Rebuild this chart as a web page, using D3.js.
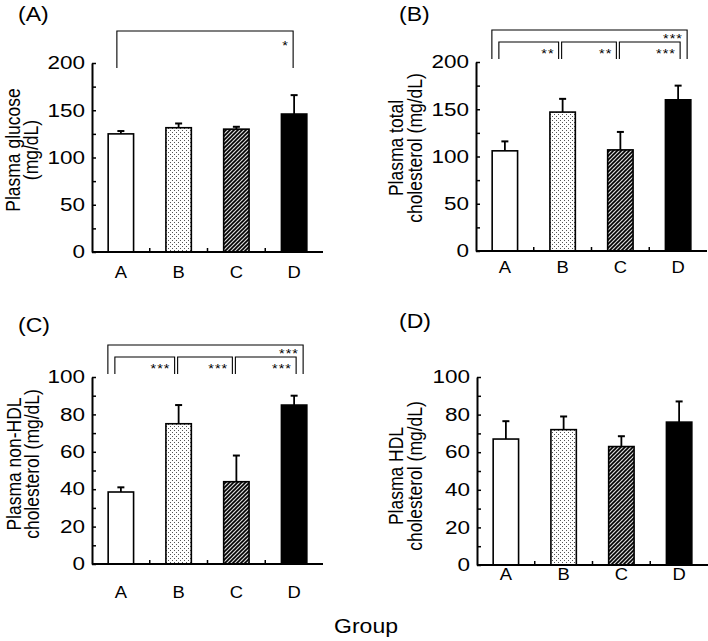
<!DOCTYPE html>
<html>
<head>
<meta charset="utf-8">
<script src="https://cdn.jsdelivr.net/npm/d3@7"></script>
<style>
  body { margin: 0; background: #fff; }
  text { font-family: "Liberation Sans", Arial, sans-serif; fill: #000; }
</style>
</head>
<body>
<script>
const groups = ["A", "B", "C", "D"];

const glucoseMean = [125, 131.5, 130, 146];
const glucoseSD = [3, 4.5, 2.5, 20];
const totalCholMean = [106, 147, 107, 160];
const totalCholSD = [10, 14, 19, 15];
const nonHdlMean = [38.5, 75, 44, 85];
const nonHdlSD = [2.5, 10, 14, 5];
const hdlMean = [67, 72, 63, 76];
const hdlSD = [9.5, 7, 5.5, 11];

// [from, to, level, stars]
const glucoseSig = [["A", "D", 1, "*"]];
const totalCholSig = [["A", "B", 0, "**"], ["B", "C", 0, "**"], ["C", "D", 0, "***"], ["A", "D", 1, "***"]];
const nonHdlSig = [["A", "B", 0, "***"], ["B", "C", 0, "***"], ["C", "D", 0, "***"], ["A", "D", 1, "***"]];
const hdlSig = [];

const yLabels = {
  A: ["Plasma glucose", "(mg/dL)"],
  B: ["Plasma total", "cholesterol (mg/dL)"],
  C: ["Plasma non-HDL", "cholesterol (mg/dL)"],
  D: ["Plasma HDL", "cholesterol (mg/dL)"]
};

const fills = ["#fff", "url(#dots)", "url(#hatch)", "#000"];
const SX = 1.15; // the figure's text is a bit wide

const panels = [
  { tag: "(A)", mean: glucoseMean, sd: glucoseSD, sig: glucoseSig, ymax: 200, step: 50, lab: yLabels.A,
    box: { l: 92, r: 323, t: 63, b: 252 }, labX: [19.5, 38], labY: 150, catDy: 26, legEnd: 5, title: [18, 21] },
  { tag: "(B)", mean: totalCholMean, sd: totalCholSD, sig: totalCholSig, ymax: 200, step: 50, lab: yLabels.B,
    box: { l: 476, r: 707, t: 62, b: 251 }, labX: [403, 421.5], labY: 148, catDy: 22, legEnd: -3, title: [399, 21] },
  { tag: "(C)", mean: nonHdlMean, sd: nonHdlSD, sig: nonHdlSig, ymax: 100, step: 20, lab: yLabels.C,
    box: { l: 92, r: 323, t: 377, b: 564 }, labX: [21, 39], labY: 464, catDy: 34, legEnd: -3, title: [18, 332] },
  { tag: "(D)", mean: hdlMean, sd: hdlSD, sig: hdlSig, ymax: 100, step: 20, lab: yLabels.D,
    box: { l: 477, r: 708, t: 377, b: 565 }, labX: [403, 421.5], labY: 476, catDy: 15, legEnd: -3, title: [399, 328] }
];

const svg = d3.select("body").append("svg").attr("width", 708).attr("height", 641);

const defs = svg.append("defs");
const dots = defs.append("pattern").attr("id", "dots")
  .attr("patternUnits", "userSpaceOnUse").attr("width", 4).attr("height", 4);
dots.append("rect").attr("width", 4).attr("height", 4).attr("fill", "#fff");
dots.append("rect").attr("x", 0).attr("y", 0).attr("width", 1).attr("height", 1).attr("fill", "#555");
dots.append("rect").attr("x", 2).attr("y", 2).attr("width", 1).attr("height", 1).attr("fill", "#555");

const hatch = defs.append("pattern").attr("id", "hatch")
  .attr("patternUnits", "userSpaceOnUse").attr("width", 4).attr("height", 4);
hatch.append("rect").attr("width", 4).attr("height", 4).attr("fill", "#d8d8d8");
hatch.append("path").attr("d", "M-1,1 l2,-2 M0,4 l4,-4 M3,5 l2,-2")
  .attr("stroke", "#000").attr("stroke-width", 1.6);

function addText(x, y, str, size, anchor, rot, sx = SX) {
  return svg.append("text")
    .attr("transform", `translate(${x},${y}) scale(${sx},1)` + (rot ? " rotate(-90)" : ""))
    .attr("text-anchor", anchor)
    .style("font-size", size + "px")
    .text(str);
}

panels.forEach(p => {
  const { l, r, t, b } = p.box;
  const x = d3.scaleBand().domain(groups).range([l, r]).paddingInner(0.56).paddingOuter(0.28);
  const y = d3.scaleLinear().domain([0, p.ymax]).range([b, t]);
  const bw = x.bandwidth();
  const cx = g => x(g) + bw / 2;
  const g = svg.append("g");

  // bars
  g.selectAll("rect.bar").data(groups).join("rect")
    .attr("x", d => x(d))
    .attr("y", (d, i) => y(p.mean[i]))
    .attr("width", bw)
    .attr("height", (d, i) => y(0) - y(p.mean[i]))
    .attr("fill", (d, i) => fills[i])
    .attr("stroke", "#000")
    .attr("stroke-width", 1.6);

  // error bars (upper only)
  groups.forEach((d, i) => {
    const top = y(p.mean[i] + p.sd[i]);
    g.append("line").attr("x1", cx(d)).attr("x2", cx(d))
      .attr("y1", y(p.mean[i])).attr("y2", top)
      .attr("stroke", "#000").attr("stroke-width", 1.8);
    g.append("line").attr("x1", cx(d) - 3.5).attr("x2", cx(d) + 3.5)
      .attr("y1", top).attr("y2", top)
      .attr("stroke", "#000").attr("stroke-width", 2);
  });

  // y axis, ticks inward, labels every major step
  const tickVals = d3.range(0, p.ymax + 0.001, p.step / 2);
  const yAxis = d3.axisLeft(y).tickValues(tickVals)
    .tickSizeInner(-4).tickSizeOuter(0).tickPadding(6)
    .tickFormat(v => (v % p.step === 0 ? v : ""));
  const ya = svg.append("g").attr("transform", `translate(${l},0)`).call(yAxis);
  ya.select(".domain").attr("stroke-width", 2);
  ya.selectAll(".tick line").attr("stroke-width", 1.5);
  ya.selectAll(".tick text")
    .attr("font-family", null).attr("font-size", null)
    .style("font-size", "18px")
    .attr("x", null)
    .attr("transform", "translate(-7,0) scale(1.25,1)");

  // x axis with ticks between groups
  svg.append("line").attr("x1", l).attr("x2", r).attr("y1", b).attr("y2", b)
    .attr("stroke", "#000").attr("stroke-width", 2);
  groups.slice(1).forEach(d => {
    const bx = x(d) - x.step() * x.paddingInner() / 2;
    svg.append("line").attr("x1", bx).attr("x2", bx).attr("y1", b).attr("y2", b - 4)
      .attr("stroke", "#000").attr("stroke-width", 1.5);
  });
  groups.forEach(d => addText(cx(d), b + p.catDy, d, 16, "middle"));

  // significance brackets
  const hasInner = p.sig.some(s => s[2] === 0);
  p.sig.forEach(([from, to, level, stars]) => {
    const i0 = groups.indexOf(from), i1 = groups.indexOf(to);
    let x0, x1;
    if (level === 1) {
      x0 = cx(from) + (hasInner ? -13 : -4);
      x1 = cx(to) + (hasInner ? 9 : -1);
    } else {
      x0 = cx(from) + (i0 === 0 ? -6 : -1);
      x1 = cx(to) - 4 + (i1 === groups.length - 1 ? 6 : 0);
    }
    const yl = t - (level === 1 ? 32 : 20);
    g.append("path")
      .attr("d", `M${x0},${t + p.legEnd}V${yl}H${x1}V${t + p.legEnd}`)
      .attr("fill", "none").attr("stroke", "#000").attr("stroke-width", 1.1);
    const dy = !hasInner ? 19 : (level === 1 ? 13.3 : 15.5);
    addText(x1 - 4, yl + dy, stars, 12.5, "end").style("letter-spacing", "1px");
  });

  // y label and panel tag
  p.lab.forEach((s, k) => addText(p.labX[k], p.labY, s, 17.5, "middle", true));
  addText(p.title[0], p.title[1], p.tag, 20, "start");
});

addText(366, 633, "Group", 20, "middle");
</script>
</body>
</html>
